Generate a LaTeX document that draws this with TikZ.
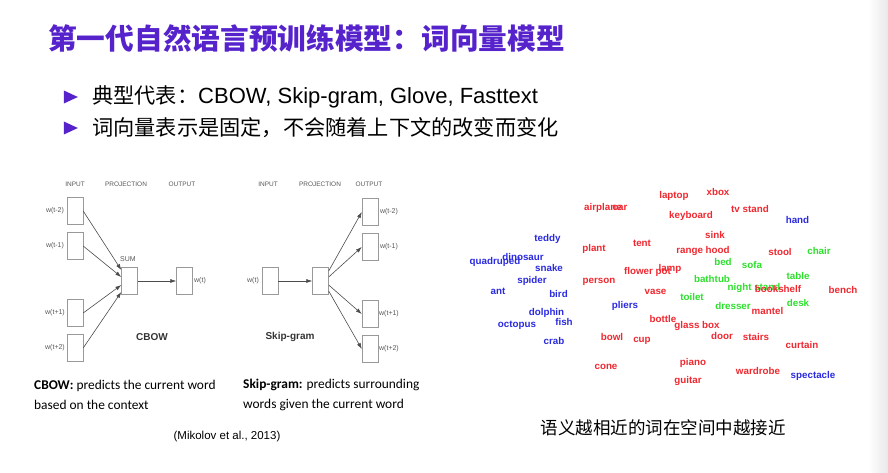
\documentclass[tikz,border=0pt]{standalone}
\usepackage{fontspec}
\setmainfont{Liberation Sans}
\newfontfamily\cjk{Noto Sans CJK SC}
\newfontfamily\calibri{Carlito}
\usetikzlibrary{arrows.meta, positioning, shapes.geometric}
\definecolor{titlePurple}{HTML}{5522CC}
\definecolor{wordRed}{HTML}{F02830}
\definecolor{wordGreen}{HTML}{2CE02C}
\definecolor{wordBlue}{HTML}{2A2AE0}
\colorlet{netgray}{black!70}

\begin{document}
\begin{tikzpicture}[x=1pt, y=-1pt,
  headline/.style={font=\cjk\bfseries\fontsize{28.7}{30}\selectfont, text=titlePurple, anchor=west, inner sep=0pt},
  bulletmark/.style={isosceles triangle, isosceles triangle stretches, minimum width=13pt, minimum height=14pt, fill=titlePurple, inner sep=0pt},
  bullettext/.style={font=\fontsize{21.2}{24}\selectfont, anchor=west, inner sep=0pt},
  vec/.style={draw=black!40, fill=white, minimum width=16pt, minimum height=27pt, inner sep=0pt},
  layer/.style={font=\fontsize{6.5}{7}\selectfont, text=black!65, inner sep=0pt},
  wlabel/.style={font=\fontsize{7}{8}\selectfont, text=black!65, inner sep=0pt},
  netname/.style={font=\bfseries\fontsize{10}{11}\selectfont, text=black!80, inner sep=0pt},
  edge/.style={-{Latex[length=6pt, width=4pt]}, netgray, line width=0.6pt},
  caption/.style={font=\calibri\fontsize{13.4}{20}\selectfont, anchor=west, inner sep=0pt, align=left},
  word/.style={font=\bfseries\fontsize{9.8}{10}\selectfont, inner sep=0pt},
  red/.style={word, text=wordRed},
  green/.style={word, text=wordGreen},
  blue/.style={word, text=wordBlue}
]
  \fill[white] (0,0) rectangle (888,473);
  \useasboundingbox (0,0) rectangle (888,473);
  \shade[left color=white, right color=black!9] (868,0) rectangle (888,473);

  \node[headline] (title) at (48,38) {第一代自然语言预训练模型：词向量模型};

  \node[bulletmark] (b1) at (68,97) {};
  \node[bullettext] (t1) at (92,97) {{\cjk 典型代表：}{\fontsize{22}{24}\selectfont CBOW, Skip-gram, Glove, Fasttext}};
  \node[bulletmark] (b2) at (68,128) {};
  \node[bullettext] (t2) at (92,128) {\cjk 词向量表示是固定，不会随着上下文的改变而变化};

  % CBOW
  \node[layer] (cin) at (75,184) {INPUT};
  \node[layer] (cproj) at (126,184) {PROJECTION};
  \node[layer] (cout) at (182,184) {OUTPUT};

  \node[vec] (c1) at (75,211) {};
  \node[vec] (c2) at (75,246) {};
  \node[vec] (c3) at (75,313) {};
  \node[vec] (c4) at (75,348) {};
  \node[wlabel] at (55,211) {w(t-2)};
  \node[wlabel] at (55,246) {w(t-1)};
  \node[wlabel] at (55,313) {w(t+1)};
  \node[wlabel] at (55,348) {w(t+2)};

  \node[vec] (sum) at (129.5,281) {};
  \node[wlabel] (sumlbl) at (128,259) {SUM};
  \node[vec] (cw) at (184.5,281) {};
  \node[wlabel] (cwlbl) at (200,281) {w(t)};
  \node[netname] (cbow) at (152,337) {CBOW};

  \draw[edge] (c1.east) -- ([yshift=11pt]sum.west);
  \draw[edge] (c2.east) -- ([yshift=4pt]sum.west);
  \draw[edge] (c3.east) -- ([yshift=-4pt]sum.west);
  \draw[edge] (c4.east) -- ([yshift=-11pt]sum.west);
  \draw[edge] (sum.east) -- (cw.west);

  % Skip-gram
  \node[layer] (sin) at (268,184) {INPUT};
  \node[layer] (sproj) at (320,184) {PROJECTION};
  \node[layer] (sout) at (369,184) {OUTPUT};

  \node[vec] (sw) at (270,281) {};
  \node[wlabel] (swlbl) at (253,281) {w(t)};
  \node[vec] (proj) at (320.5,281) {};
  \node[vec] (s1) at (370,212) {};
  \node[vec] (s2) at (370,247) {};
  \node[vec] (s3) at (370,314) {};
  \node[vec] (s4) at (370,349) {};
  \node[wlabel] at (389,212) {w(t-2)};
  \node[wlabel] at (389,247) {w(t-1)};
  \node[wlabel] at (389,314) {w(t+1)};
  \node[wlabel] at (389,349) {w(t+2)};
  \node[netname] (skip) at (290,337) {Skip-gram};

  \draw[edge] (sw.east) -- (proj.west);
  \draw[edge] ([yshift=10pt]proj.east) -- (s1.west);
  \draw[edge] ([yshift=4pt]proj.east) -- (s2.west);
  \draw[edge] ([yshift=-4pt]proj.east) -- (s3.west);
  \draw[edge] ([yshift=-10pt]proj.east) -- (s4.west);

  \node[caption] (capc) at (34,395) {\textbf{CBOW:} predicts the current word\\based on the context};
  \node[caption] (caps) at (243,395) {\textbf{Skip-gram:} predicts surrounding\\words given the current word};
  \node[font=\fontsize{11.5}{13}\selectfont, inner sep=0pt] (ref) at (227,437) {(Mikolov et al., 2013)};

  % word map
  \node[green] (chair) at (819,251) {chair};
  \node[green] (bed) at (723,262) {bed};
  \node[green] (sofa) at (752,265) {sofa};
  \node[green] (bathtub) at (712,279) {bathtub};
  \node[green] (table) at (798,276) {table};
  \node[green] (nightstand) at (754,288) {night stand};
  \node[green] (toilet) at (692,297) {toilet};
  \node[green] (dresser) at (733,306) {dresser};
  \node[green] (desk) at (798,303) {desk};

  \node[red] (airplane) at (603,208) {airplane};
  \node[red] (car) at (620,208) {car};
  \node[red] (laptop) at (674,196) {laptop};
  \node[red] (xbox) at (718,192) {xbox};
  \node[red] (keyboard) at (691,216) {keyboard};
  \node[red] (tvstand) at (750,209) {tv stand};
  \node[red] (sink) at (715,235) {sink};
  \node[red] (rangehood) at (703,251) {range hood};
  \node[red] (stool) at (780,252) {stool};
  \node[red] (tent) at (642,243) {tent};
  \node[red] (plant) at (594,249) {plant};
  \node[red] (flowerpot) at (647.5,272) {flower pot};
  \node[red] (lamp) at (670,269) {lamp};
  \node[red] (person) at (599,282) {person};
  \node[red] (vase) at (655.5,292) {vase};
  \node[red] (bookshelf) at (778,289) {bookshelf};
  \node[red] (bench) at (843,290) {bench};
  \node[red] (mantel) at (767.5,311) {mantel};
  \node[red] (bottle) at (663,319) {bottle};
  \node[red] (glassbox) at (697,326) {glass box};
  \node[red] (door) at (722,336) {door};
  \node[red] (stairs) at (756,337) {stairs};
  \node[red] (bowl) at (612,337) {bowl};
  \node[red] (cup) at (642,341) {cup};
  \node[red] (curtain) at (802,345) {curtain};
  \node[red] (piano) at (693,363) {piano};
  \node[red] (cone) at (606,367) {cone};
  \node[red] (wardrobe) at (758,371) {wardrobe};
  \node[red] (guitar) at (688,381) {guitar};

  \node[blue] (hand) at (797.5,220) {hand};
  \node[blue] (teddy) at (547.5,239) {teddy};
  \node[blue] (quadruped) at (495,262) {quadruped};
  \node[blue] (dinosaur) at (523,257) {dinosaur};
  \node[blue] (snake) at (549,268) {snake};
  \node[blue] (spider) at (532,281) {spider};
  \node[blue] (ant) at (498,291) {ant};
  \node[blue] (bird) at (558.5,294) {bird};
  \node[blue] (pliers) at (625,306) {pliers};
  \node[blue] (dolphin) at (546.5,313) {dolphin};
  \node[blue] (fish) at (564,322) {fish};
  \node[blue] (octopus) at (517,325) {octopus};
  \node[blue] (crab) at (554,341) {crab};
  \node[blue] (spectacle) at (813,376) {spectacle};

  \node[font=\cjk\fontsize{17.5}{20}\selectfont, inner sep=0pt] (note) at (663,428) {语义越相近的词在空间中越接近};
\end{tikzpicture}
\end{document}
